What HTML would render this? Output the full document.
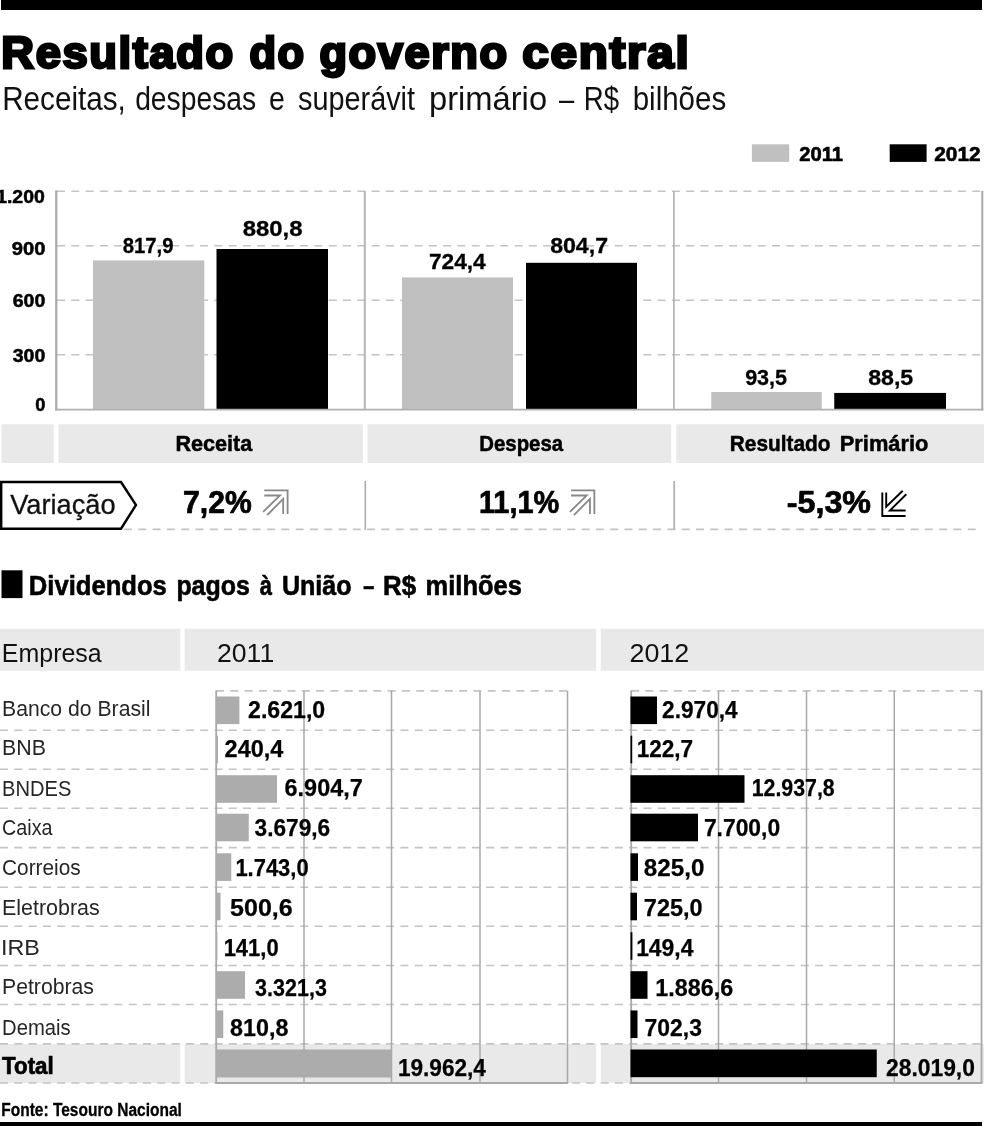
<!DOCTYPE html>
<html lang="pt-BR"><head><meta charset="utf-8"><title>Resultado do governo central</title>
<style>
html,body{margin:0;padding:0;background:#fff;}
svg{display:block;font-family:"Liberation Sans", sans-serif;}
</style></head><body>
<svg width="984" height="1126" viewBox="0 0 984 1126">
<rect width="984" height="1126" fill="#fff"/>
<rect x="1" y="0" width="981" height="10" fill="#000"/>
<text y="68" font-size="45" font-weight="bold" stroke="#000" stroke-width="2.8" stroke-linejoin="miter" letter-spacing="1.6"><tspan x="1.38" textLength="233.32" lengthAdjust="spacingAndGlyphs">Resultado</tspan> <tspan x="249.43" textLength="56.15" lengthAdjust="spacingAndGlyphs">do</tspan> <tspan x="319.4" textLength="189.3" lengthAdjust="spacingAndGlyphs">governo</tspan> <tspan x="522.34" textLength="168.1" lengthAdjust="spacingAndGlyphs">central</tspan></text>
<text y="110" font-size="32.5" fill="#111"><tspan x="2.17" textLength="123.68" lengthAdjust="spacingAndGlyphs">Receitas,</tspan> <tspan x="135.13" textLength="121.09" lengthAdjust="spacingAndGlyphs">despesas</tspan> <tspan x="269.12" textLength="15.82" lengthAdjust="spacingAndGlyphs">e</tspan> <tspan x="298.0" textLength="117.03" lengthAdjust="spacingAndGlyphs">superávit</tspan> <tspan x="428.99" textLength="118.09" lengthAdjust="spacingAndGlyphs">primário</tspan> <tspan x="559.0" textLength="15.22" lengthAdjust="spacingAndGlyphs">–</tspan> <tspan x="583.8" textLength="35.26" lengthAdjust="spacingAndGlyphs">R$</tspan> <tspan x="632.68" textLength="93.54" lengthAdjust="spacingAndGlyphs">bilhões</tspan></text>
<rect x="751.9" y="144.3" width="37.3" height="17.6" fill="#c0c0c0"/>
<text x="799.3" y="161" font-size="20.5" font-weight="bold" textLength="43.8" lengthAdjust="spacingAndGlyphs" stroke="#000" stroke-width="0.6" stroke-linejoin="round">2011</text>
<rect x="889.7" y="144.3" width="36.9" height="17.6" fill="#000"/>
<text x="934.3" y="161" font-size="20.5" font-weight="bold" textLength="46.31" lengthAdjust="spacingAndGlyphs" stroke="#000" stroke-width="0.6" stroke-linejoin="round">2012</text>
<line x1="57" y1="354.75" x2="982" y2="354.75" stroke="#c4c4c4" stroke-width="1.6" stroke-dasharray="8 6.3"/>
<line x1="57" y1="300.25" x2="982" y2="300.25" stroke="#c4c4c4" stroke-width="1.6" stroke-dasharray="8 6.3"/>
<line x1="57" y1="245.75" x2="982" y2="245.75" stroke="#c4c4c4" stroke-width="1.6" stroke-dasharray="8 6.3"/>
<line x1="57" y1="191.25" x2="982" y2="191.25" stroke="#c4c4c4" stroke-width="1.6" stroke-dasharray="8 6.3"/>
<text x="-3.83" y="203" font-size="18" font-weight="bold" textLength="48.59" lengthAdjust="spacingAndGlyphs" stroke="#000" stroke-width="0.5" stroke-linejoin="round">1.200</text>
<text x="11.75" y="254.75" font-size="18" font-weight="bold" textLength="33.61" lengthAdjust="spacingAndGlyphs" stroke="#000" stroke-width="0.5" stroke-linejoin="round">900</text>
<text x="12.75" y="307" font-size="18" font-weight="bold" textLength="32.61" lengthAdjust="spacingAndGlyphs" stroke="#000" stroke-width="0.5" stroke-linejoin="round">600</text>
<text x="12.75" y="362.25" font-size="18" font-weight="bold" textLength="32.61" lengthAdjust="spacingAndGlyphs" stroke="#000" stroke-width="0.5" stroke-linejoin="round">300</text>
<text x="35.25" y="411" font-size="18" font-weight="bold" textLength="10.11" lengthAdjust="spacingAndGlyphs" stroke="#000" stroke-width="0.5" stroke-linejoin="round">0</text>
<rect x="93" y="260.41" width="111.3" height="149.19" fill="#c0c0c0"/>
<rect x="216.5" y="248.99" width="111.5" height="160.61" fill="#000"/>
<rect x="402" y="277.4" width="111" height="132.2" fill="#c0c0c0"/>
<rect x="526" y="262.81" width="111" height="146.79" fill="#000"/>
<rect x="711.25" y="392.01" width="110.5" height="17.59" fill="#c0c0c0"/>
<rect x="834.25" y="392.92" width="111.75" height="16.68" fill="#000"/>
<line x1="56.25" y1="190.5" x2="56.25" y2="410.5" stroke="#a9a9a9" stroke-width="2.2"/>
<line x1="364.8" y1="191" x2="364.8" y2="409" stroke="#b4b4b4" stroke-width="2"/>
<line x1="673.9" y1="191" x2="673.9" y2="409" stroke="#b4b4b4" stroke-width="1.7"/>
<line x1="982.3" y1="191" x2="982.3" y2="410.5" stroke="#a9a9a9" stroke-width="2"/>
<line x1="55.2" y1="409.6" x2="983.3" y2="409.6" stroke="#b0b0b0" stroke-width="1.9"/>
<text x="122.65" y="253.2" font-size="22.8" font-weight="bold" textLength="50.8" lengthAdjust="spacingAndGlyphs" stroke="#000" stroke-width="0.3" stroke-linejoin="round">817,9</text>
<text x="242.65" y="235.7" font-size="22.8" font-weight="bold" textLength="59.91" lengthAdjust="spacingAndGlyphs" stroke="#000" stroke-width="0.3" stroke-linejoin="round">880,8</text>
<text x="428.9" y="269.45" font-size="22.8" font-weight="bold" textLength="56.88" lengthAdjust="spacingAndGlyphs" stroke="#000" stroke-width="0.3" stroke-linejoin="round">724,4</text>
<text x="550.15" y="252.7" font-size="22.8" font-weight="bold" textLength="57.89" lengthAdjust="spacingAndGlyphs" stroke="#000" stroke-width="0.3" stroke-linejoin="round">804,7</text>
<text x="745.15" y="385.2" font-size="22.8" font-weight="bold" textLength="41.9" lengthAdjust="spacingAndGlyphs" stroke="#000" stroke-width="0.3" stroke-linejoin="round">93,5</text>
<text x="868.15" y="385.2" font-size="22.8" font-weight="bold" textLength="45.12" lengthAdjust="spacingAndGlyphs" stroke="#000" stroke-width="0.3" stroke-linejoin="round">88,5</text>
<rect x="1.5" y="424.3" width="52.25" height="38.7" fill="#e9e9e9"/>
<rect x="58.5" y="424.3" width="304.5" height="38.7" fill="#e9e9e9"/>
<rect x="367.5" y="424.3" width="303.75" height="38.7" fill="#e9e9e9"/>
<rect x="676.25" y="424.3" width="307.75" height="38.7" fill="#e9e9e9"/>
<text x="175.54" y="451" font-size="22.5" font-weight="bold" textLength="76.74" lengthAdjust="spacingAndGlyphs" stroke="#000" stroke-width="0.5" stroke-linejoin="round">Receita</text>
<text x="479.35" y="451" font-size="22.5" font-weight="bold" textLength="83.71" lengthAdjust="spacingAndGlyphs" stroke="#000" stroke-width="0.5" stroke-linejoin="round">Despesa</text>
<text y="451" font-size="22.5" font-weight="bold" stroke="#000" stroke-width="0.5" stroke-linejoin="round"><tspan x="729.82" textLength="100.61" lengthAdjust="spacingAndGlyphs">Resultado</tspan> <tspan x="839.78" textLength="88.69" lengthAdjust="spacingAndGlyphs">Primário</tspan></text>
<line x1="124" y1="529.4" x2="978" y2="529.4" stroke="#c4c4c4" stroke-width="1.6" stroke-dasharray="8 6.3"/>
<line x1="365.3" y1="481" x2="365.3" y2="530" stroke="#b0b0b0" stroke-width="1.7"/>
<line x1="674.2" y1="481" x2="674.2" y2="530" stroke="#b0b0b0" stroke-width="1.7"/>
<path d="M1.2 482 H121 L136 505 L121 528.7 H1.2 Z" fill="#fff" stroke="#000" stroke-width="2.4" stroke-linejoin="miter"/>
<text x="10.15" y="513.5" font-size="27.5" fill="#111" textLength="105.49" lengthAdjust="spacingAndGlyphs" stroke="#111" stroke-width="0.3" stroke-linejoin="round">Variação</text>
<text x="183.11" y="512.7" font-size="30.5" font-weight="bold" textLength="68.66" lengthAdjust="spacingAndGlyphs" stroke="#000" stroke-width="0.7" stroke-linejoin="round">7,2%</text>
<text x="478.9" y="512.7" font-size="30.5" font-weight="bold" textLength="80.36" lengthAdjust="spacingAndGlyphs" stroke="#000" stroke-width="0.7" stroke-linejoin="round">11,1%</text>
<text x="786.79" y="512.7" font-size="30.5" font-weight="bold" textLength="84.23" lengthAdjust="spacingAndGlyphs" stroke="#000" stroke-width="0.7" stroke-linejoin="round">-5,3%</text>
<path transform="translate(0 0)" d="M264.3 490.4 H287.6 V514 M264.3 495.5 H280 L263.1 511.9 M283.2 514 V498.9 L267.1 515.2" fill="none" stroke="#888" stroke-width="1.8"/>
<path transform="translate(306.75 0)" d="M264.3 490.4 H287.6 V514 M264.3 495.5 H280 L263.1 511.9 M283.2 514 V498.9 L267.1 515.2" fill="none" stroke="#888" stroke-width="1.8"/>
<path d="M882.3 492.5 V516 H905.6 M886.2 492.5 V506.8 L902.7 490.7 M905.6 510.5 H889.9 L906.3 494.3" fill="none" stroke="#000" stroke-width="1.9"/>
<rect x="1.5" y="570.3" width="21" height="27.8" fill="#000"/>
<text y="595.4" font-size="27.3" font-weight="bold" stroke="#000" stroke-width="0.6" stroke-linejoin="round"><tspan x="28.86" textLength="138.01" lengthAdjust="spacingAndGlyphs">Dividendos</tspan> <tspan x="176.39" textLength="73.48" lengthAdjust="spacingAndGlyphs">pagos</tspan> <tspan x="259.8" textLength="12.24" lengthAdjust="spacingAndGlyphs">à</tspan> <tspan x="281.88" textLength="69.69" lengthAdjust="spacingAndGlyphs">União</tspan> <tspan x="363.3" textLength="11.03" lengthAdjust="spacingAndGlyphs">–</tspan> <tspan x="383.1" textLength="33.02" lengthAdjust="spacingAndGlyphs">R$</tspan> <tspan x="425.62" textLength="96.25" lengthAdjust="spacingAndGlyphs">milhões</tspan></text>
<rect x="0" y="628.75" width="180.3" height="42" fill="#e9e9e9"/>
<rect x="0" y="1044" width="180.3" height="39" fill="#e9e9e9"/>
<rect x="184.7" y="628.75" width="411.55" height="42" fill="#e9e9e9"/>
<rect x="184.7" y="1044" width="411.55" height="39" fill="#e9e9e9"/>
<rect x="600.75" y="628.75" width="383.25" height="42" fill="#e9e9e9"/>
<rect x="600.75" y="1044" width="383.25" height="39" fill="#e9e9e9"/>
<text x="1.87" y="662.25" font-size="26.5" fill="#111" textLength="99.79" lengthAdjust="spacingAndGlyphs">Empresa</text>
<text x="216.98" y="662.3" font-size="26" fill="#111" textLength="57.24" lengthAdjust="spacingAndGlyphs">2011</text>
<text x="629.47" y="662.3" font-size="26" fill="#111" textLength="59.76" lengthAdjust="spacingAndGlyphs">2012</text>
<line x1="216" y1="690.9" x2="568" y2="690.9" stroke="#c4c4c4" stroke-width="1.6" stroke-dasharray="8 6.3"/>
<line x1="631" y1="690.9" x2="982" y2="690.9" stroke="#c4c4c4" stroke-width="1.6" stroke-dasharray="8 6.3"/>
<line x1="0" y1="730.2" x2="984" y2="730.2" stroke="#c4c4c4" stroke-width="1.6" stroke-dasharray="8 6.3"/>
<line x1="0" y1="769.2" x2="984" y2="769.2" stroke="#c4c4c4" stroke-width="1.6" stroke-dasharray="8 6.3"/>
<line x1="0" y1="808.3" x2="984" y2="808.3" stroke="#c4c4c4" stroke-width="1.6" stroke-dasharray="8 6.3"/>
<line x1="0" y1="847.6" x2="984" y2="847.6" stroke="#c4c4c4" stroke-width="1.6" stroke-dasharray="8 6.3"/>
<line x1="0" y1="887.3" x2="984" y2="887.3" stroke="#c4c4c4" stroke-width="1.6" stroke-dasharray="8 6.3"/>
<line x1="0" y1="926.2" x2="984" y2="926.2" stroke="#c4c4c4" stroke-width="1.6" stroke-dasharray="8 6.3"/>
<line x1="0" y1="965.5" x2="984" y2="965.5" stroke="#c4c4c4" stroke-width="1.6" stroke-dasharray="8 6.3"/>
<line x1="0" y1="1004.5" x2="984" y2="1004.5" stroke="#c4c4c4" stroke-width="1.6" stroke-dasharray="8 6.3"/>
<line x1="0" y1="1043.9" x2="984" y2="1043.9" stroke="#c4c4c4" stroke-width="1.6" stroke-dasharray="8 6.3"/>
<line x1="0" y1="1083" x2="984" y2="1083" stroke="#c4c4c4" stroke-width="1.6" stroke-dasharray="8 6.3"/>
<line x1="304" y1="691" x2="304" y2="1083" stroke="#a9a9a9" stroke-width="1.5"/>
<line x1="391.5" y1="691" x2="391.5" y2="1083" stroke="#a9a9a9" stroke-width="1.5"/>
<line x1="480" y1="691" x2="480" y2="1083" stroke="#a9a9a9" stroke-width="1.5"/>
<line x1="567.5" y1="691" x2="567.5" y2="1083" stroke="#a9a9a9" stroke-width="1.5"/>
<line x1="718.5" y1="691" x2="718.5" y2="1083" stroke="#a9a9a9" stroke-width="1.5"/>
<line x1="806.5" y1="691" x2="806.5" y2="1083" stroke="#a9a9a9" stroke-width="1.5"/>
<line x1="894.25" y1="691" x2="894.25" y2="1083" stroke="#a9a9a9" stroke-width="1.5"/>
<line x1="216.2" y1="690.5" x2="216.2" y2="1083.8" stroke="#a9a9a9" stroke-width="1.8"/>
<line x1="631.2" y1="690.5" x2="631.2" y2="1083.8" stroke="#a9a9a9" stroke-width="1.8"/>
<line x1="981.5" y1="690.5" x2="981.5" y2="1083.8" stroke="#a9a9a9" stroke-width="1.8"/>
<line x1="215.3" y1="1083" x2="568.2" y2="1083" stroke="#a9a9a9" stroke-width="1.8"/>
<line x1="630.3" y1="1083" x2="982.4" y2="1083" stroke="#a9a9a9" stroke-width="1.8"/>
<text x="2.06" y="715.5" font-size="22.5" fill="#262626" textLength="148.38" lengthAdjust="spacingAndGlyphs">Banco do Brasil</text>
<text x="2.05" y="755" font-size="22.5" fill="#262626" textLength="43.9" lengthAdjust="spacingAndGlyphs">BNB</text>
<text x="2.11" y="795.5" font-size="22.5" fill="#262626" textLength="69.29" lengthAdjust="spacingAndGlyphs">BNDES</text>
<text x="2.12" y="835" font-size="22.5" fill="#262626" textLength="50.45" lengthAdjust="spacingAndGlyphs">Caixa</text>
<text x="2.07" y="875" font-size="22.5" fill="#262626" textLength="78.66" lengthAdjust="spacingAndGlyphs">Correios</text>
<text x="2.05" y="914.5" font-size="22.5" fill="#262626" textLength="97.69" lengthAdjust="spacingAndGlyphs">Eletrobras</text>
<text x="0.93" y="954.5" font-size="22.5" fill="#262626" textLength="38.87" lengthAdjust="spacingAndGlyphs">IRB</text>
<text x="2.06" y="993.75" font-size="22.5" fill="#262626" textLength="91.93" lengthAdjust="spacingAndGlyphs">Petrobras</text>
<text x="2.1" y="1034.5" font-size="22.5" fill="#262626" textLength="68.62" lengthAdjust="spacingAndGlyphs">Demais</text>
<text x="2.05" y="1073.6" font-size="23.3" font-weight="bold" textLength="51.61" lengthAdjust="spacingAndGlyphs" stroke="#000" stroke-width="0.7" stroke-linejoin="round">Total</text>
<rect x="216" y="696.5" width="23.4" height="27.6" fill="#acacac"/>
<rect x="630.5" y="696.5" width="26.5" height="27.6" fill="#000"/>
<rect x="216" y="735.7" width="2" height="27.6" fill="#acacac"/>
<rect x="630.5" y="735.7" width="1.7" height="27.6" fill="#000"/>
<rect x="216" y="775.2" width="61" height="27.6" fill="#acacac"/>
<rect x="630.5" y="775.2" width="114.0" height="27.6" fill="#000"/>
<rect x="216" y="813.7" width="32.75" height="27.6" fill="#acacac"/>
<rect x="630.5" y="813.7" width="67.5" height="27.6" fill="#000"/>
<rect x="216" y="853.3" width="15.25" height="27.6" fill="#acacac"/>
<rect x="630.5" y="853.3" width="7.5" height="27.6" fill="#000"/>
<rect x="216" y="892.7" width="4.5" height="27.6" fill="#acacac"/>
<rect x="630.5" y="892.7" width="6.5" height="27.6" fill="#000"/>
<rect x="216" y="932.2" width="1.4" height="27.6" fill="#acacac"/>
<rect x="630.5" y="932.2" width="1.9" height="27.6" fill="#000"/>
<rect x="216" y="971.2" width="29" height="27.6" fill="#acacac"/>
<rect x="630.5" y="971.2" width="17.0" height="27.6" fill="#000"/>
<rect x="216" y="1010.45" width="7.25" height="27.6" fill="#acacac"/>
<rect x="630.5" y="1010.45" width="7.0" height="27.6" fill="#000"/>
<rect x="216" y="1049.5" width="175.25" height="28" fill="#acacac"/>
<rect x="630.5" y="1049.5" width="246.25" height="27.7" fill="#000"/>
<text x="248.12" y="718" font-size="23" font-weight="bold" textLength="77.04" lengthAdjust="spacingAndGlyphs" stroke="#000" stroke-width="0.25" stroke-linejoin="round">2.621,0</text>
<text x="224.62" y="757" font-size="23" font-weight="bold" textLength="58.79" lengthAdjust="spacingAndGlyphs" stroke="#000" stroke-width="0.25" stroke-linejoin="round">240,4</text>
<text x="284.62" y="796.25" font-size="23" font-weight="bold" textLength="78.06" lengthAdjust="spacingAndGlyphs" stroke="#000" stroke-width="0.25" stroke-linejoin="round">6.904,7</text>
<text x="254.62" y="835.5" font-size="23" font-weight="bold" textLength="75.53" lengthAdjust="spacingAndGlyphs" stroke="#000" stroke-width="0.25" stroke-linejoin="round">3.679,6</text>
<text x="235.42" y="875.5" font-size="23" font-weight="bold" textLength="73.21" lengthAdjust="spacingAndGlyphs" stroke="#000" stroke-width="0.25" stroke-linejoin="round">1.743,0</text>
<text x="230.12" y="915.5" font-size="23" font-weight="bold" textLength="62.61" lengthAdjust="spacingAndGlyphs" stroke="#000" stroke-width="0.25" stroke-linejoin="round">500,6</text>
<text x="223.67" y="956.25" font-size="23" font-weight="bold" textLength="54.96" lengthAdjust="spacingAndGlyphs" stroke="#000" stroke-width="0.25" stroke-linejoin="round">141,0</text>
<text x="255.12" y="995.5" font-size="23" font-weight="bold" textLength="71.74" lengthAdjust="spacingAndGlyphs" stroke="#000" stroke-width="0.25" stroke-linejoin="round">3.321,3</text>
<text x="230.12" y="1035.5" font-size="23" font-weight="bold" textLength="58.29" lengthAdjust="spacingAndGlyphs" stroke="#000" stroke-width="0.25" stroke-linejoin="round">810,8</text>
<text x="397.89" y="1076.25" font-size="23" font-weight="bold" textLength="88.03" lengthAdjust="spacingAndGlyphs" stroke="#000" stroke-width="0.25" stroke-linejoin="round">19.962,4</text>
<text x="662.12" y="718" font-size="23" font-weight="bold" textLength="75.54" lengthAdjust="spacingAndGlyphs" stroke="#000" stroke-width="0.25" stroke-linejoin="round">2.970,4</text>
<text x="636.64" y="757" font-size="23" font-weight="bold" textLength="56.51" lengthAdjust="spacingAndGlyphs" stroke="#000" stroke-width="0.25" stroke-linejoin="round">122,7</text>
<text x="751.7" y="796.25" font-size="23" font-weight="bold" textLength="82.98" lengthAdjust="spacingAndGlyphs" stroke="#000" stroke-width="0.25" stroke-linejoin="round">12.937,8</text>
<text x="703.88" y="835.5" font-size="23" font-weight="bold" textLength="76.29" lengthAdjust="spacingAndGlyphs" stroke="#000" stroke-width="0.25" stroke-linejoin="round">7.700,0</text>
<text x="643.88" y="875.5" font-size="23" font-weight="bold" textLength="60.58" lengthAdjust="spacingAndGlyphs" stroke="#000" stroke-width="0.25" stroke-linejoin="round">825,0</text>
<text x="643.88" y="915.5" font-size="23" font-weight="bold" textLength="58.81" lengthAdjust="spacingAndGlyphs" stroke="#000" stroke-width="0.25" stroke-linejoin="round">725,0</text>
<text x="636.13" y="956.25" font-size="23" font-weight="bold" textLength="57.29" lengthAdjust="spacingAndGlyphs" stroke="#000" stroke-width="0.25" stroke-linejoin="round">149,4</text>
<text x="655.36" y="995.5" font-size="23" font-weight="bold" textLength="77.82" lengthAdjust="spacingAndGlyphs" stroke="#000" stroke-width="0.25" stroke-linejoin="round">1.886,6</text>
<text x="644.62" y="1035.5" font-size="23" font-weight="bold" textLength="57.29" lengthAdjust="spacingAndGlyphs" stroke="#000" stroke-width="0.25" stroke-linejoin="round">702,3</text>
<text x="886.12" y="1076.25" font-size="23" font-weight="bold" textLength="88.78" lengthAdjust="spacingAndGlyphs" stroke="#000" stroke-width="0.25" stroke-linejoin="round">28.019,0</text>
<text x="1.26" y="1116.25" font-size="17.5" font-weight="bold" textLength="180.6" lengthAdjust="spacingAndGlyphs" stroke="#000" stroke-width="0.3" stroke-linejoin="round">Fonte: Tesouro Nacional</text>
<rect x="0" y="1122" width="982" height="4" fill="#000"/>
</svg>
</body></html>
